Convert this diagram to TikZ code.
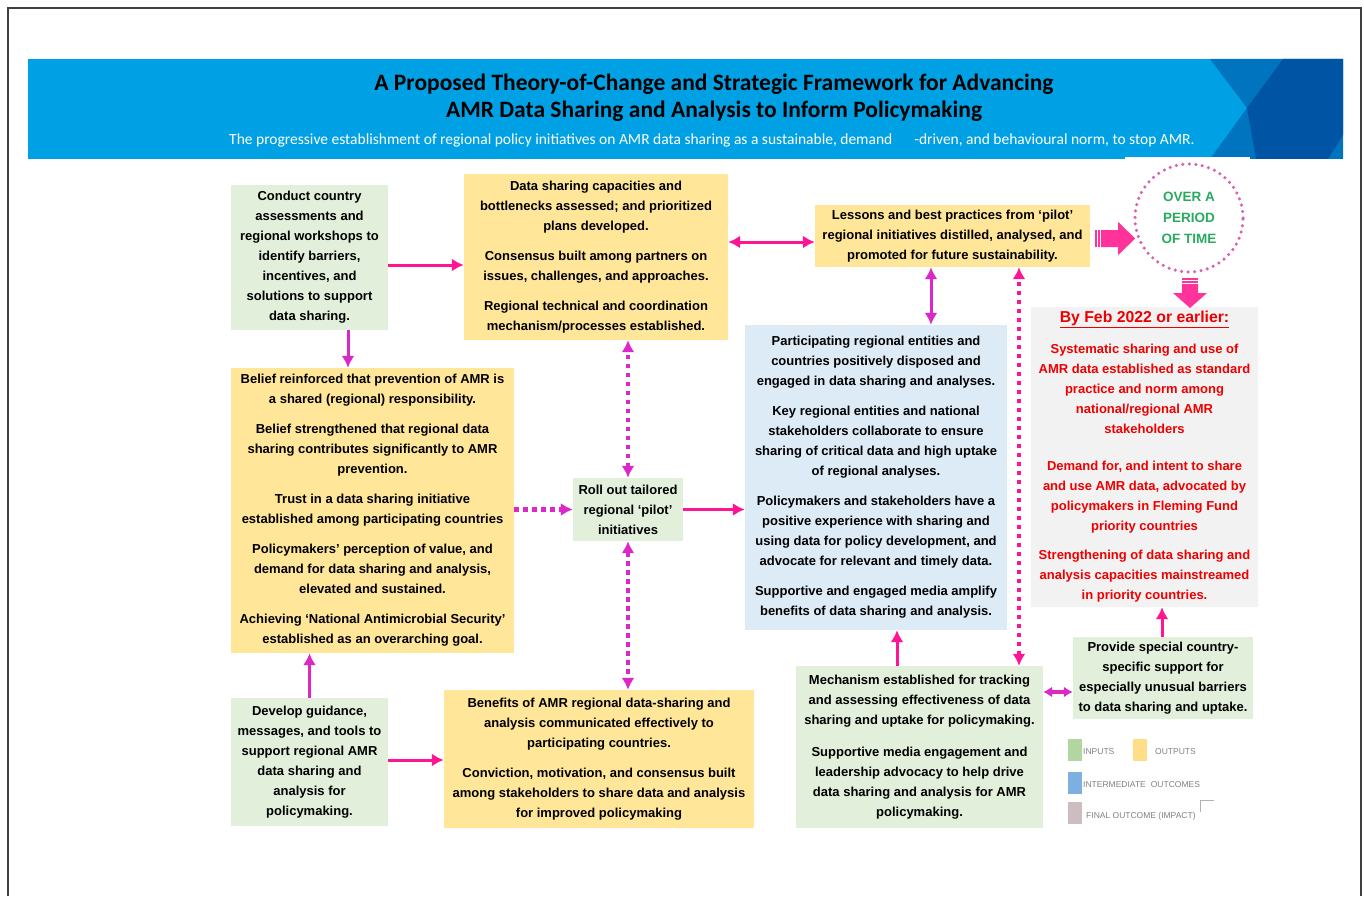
\documentclass[tikz,border=0pt]{standalone}
\usepackage{fontspec}
\setmainfont{Liberation Sans}
\newfontfamily\headfont{Carlito}
\usetikzlibrary{arrows.meta}

\definecolor{inputgreen}{RGB}{226,239,218}
\definecolor{outputyellow}{RGB}{255,230,153}
\definecolor{outcomeblue}{RGB}{221,235,247}
\definecolor{impactgray}{RGB}{242,242,242}
\definecolor{impactred}{RGB}{238,0,0}
\definecolor{bannerblue}{RGB}{0,161,228}
\definecolor{bannermid}{RGB}{0,116,190}
\definecolor{bannerdark}{RGB}{0,84,164}
\definecolor{hotpink}{RGB}{255,20,147}
\definecolor{magentalink}{RGB}{221,40,200}
\definecolor{blockpink}{RGB}{255,51,153}
\definecolor{ringpink}{RGB}{215,100,175}
\definecolor{timegreen}{RGB}{40,170,95}
\definecolor{keygreen}{RGB}{178,214,160}
\definecolor{keyyellow}{RGB}{255,222,135}
\definecolor{keyblue}{RGB}{125,175,225}
\definecolor{keygray}{RGB}{205,188,192}

\begin{document}
\begin{tikzpicture}[x=1pt, y=-1pt, >={Latex[length=12pt,width=13pt]},
  box/.style={align=center, inner sep=0pt, font=\bfseries\fontsize{13}{20}\selectfont},
  inbox/.style={box, fill=inputgreen},
  outbox/.style={box, fill=outputyellow},
  midbox/.style={box, fill=outcomeblue},
  impactbox/.style={box, fill=impactgray, text=impactred},
  solidlink/.style={->, line width=3pt},
  dotlink/.style={<->, line width=4.5pt, dash pattern=on 4.5pt off 4.5pt},
  keybox/.style={minimum width=14, minimum height=22, inner sep=0pt},
  keytext/.style={anchor=west, inner sep=0pt, text=gray, font=\fontsize{8.5}{10}\selectfont}]

\useasboundingbox (0,0) rectangle (1364,896);

% Frame
\draw[line width=1.5pt, black!75] (8,896) -- (8,8) -- (1361,8) -- (1361,896);

% Banner
\fill[bannerblue] (28,59) rectangle (1343,159);
\fill[bannermid] (1210,59) -- (1343,59) -- (1343,159) -- (1210,159) -- (1247,108) -- cycle;
\fill[bannerdark] (1283,59) -- (1343,59) -- (1343,135) -- (1328,159) -- (1256,159) -- (1247,108) -- cycle;
\fill[white] (1125,157) rectangle (1250,166);

% Title and tagline
\node[align=center, font=\headfont\bfseries\fontsize{23.5}{27}\selectfont] (title) at (714,97.5)
  {A Proposed Theory-of-Change and Strategic Framework for Advancing\\AMR Data Sharing and Analysis to Inform Policymaking};
\node[text=white, font=\headfont\fontsize{15.5}{17}\selectfont] (tagline) at (712,140)
  {The progressive establishment of regional policy initiatives on AMR data sharing as a sustainable, demand\hspace{22pt}-driven, and behavioural norm, to stop AMR.};

% INPUTS, OUTPUTS AND OUTCOMES

% Top row
\node[inbox, minimum width=157, minimum height=145] (assess) at (309.5,257.5)
  {Conduct country\\assessments and\\regional workshops to\\identify barriers,\\incentives, and\\solutions to support\\data sharing.};
\node[outbox, minimum width=264, minimum height=166] (capacity) at (596,257)
  {Data sharing capacities and\\bottlenecks assessed; and prioritized\\plans developed.\\[10pt]Consensus built among partners on\\issues, challenges, and approaches.\\[10pt]Regional technical and coordination\\mechanism/processes established.};
\node[outbox, minimum width=275, minimum height=62] (lessons) at (952.5,236)
  {Lessons and best practices from ‘pilot’\\regional initiatives distilled, analysed, and\\promoted for future sustainability.};

% Over a period of time
\node[circle, draw=ringpink, line width=3.5pt, dash pattern=on 0pt off 6.5pt, line cap=round,
  minimum size=108, inner sep=0pt, align=center, text=timegreen,
  font=\bfseries\fontsize{13.5}{21}\selectfont] (period) at (1189,218) {OVER A\\PERIOD\\OF TIME};

% Final outcome
\node[impactbox, minimum width=227, minimum height=300] (impact) at (1144.5,457)
  {{\fontsize{15.8}{20}\selectfont\underline{By Feb 2022 or earlier:}}\\[11pt]
   Systematic sharing and use of\\AMR data established as standard\\practice and norm among\\national/regional AMR\\stakeholders\\[17pt]
   Demand for, and intent to share\\and use AMR data, advocated by\\policymakers in Fleming Fund\\priority countries\\[9pt]
   Strengthening of data sharing and\\analysis capacities mainstreamed\\in priority countries.};

% Middle row
\node[outbox, minimum width=283, minimum height=285] (belief) at (372.5,510.5)
  {Belief reinforced that prevention of AMR is\\a shared (regional) responsibility.\\[10pt]
   Belief strengthened that regional data\\sharing contributes significantly to AMR\\prevention.\\[10pt]
   Trust in a data sharing initiative\\established among participating countries\\[10pt]
   Policymakers’ perception of value, and\\demand for data sharing and analysis,\\elevated and sustained.\\[10pt]
   Achieving ‘National Antimicrobial Security’\\established as an overarching goal.};
\node[inbox, minimum width=110, minimum height=63] (rollout) at (628,509.5)
  {Roll out tailored\\regional ‘pilot’\\initiatives};
\node[midbox, minimum width=262, minimum height=305] (uptake) at (876,477.5)
  {Participating regional entities and\\countries positively disposed and\\engaged in data sharing and analyses.\\[10pt]
   Key regional entities and national\\stakeholders collaborate to ensure\\sharing of critical data and high uptake\\of regional analyses.\\[10pt]
   Policymakers and stakeholders have a\\positive experience with sharing and\\using data for policy development, and\\advocate for relevant and timely data.\\[10pt]
   Supportive and engaged media amplify\\benefits of data sharing and analysis.};

% Bottom row
\node[inbox, minimum width=157, minimum height=128] (guidance) at (309.5,762)
  {Develop guidance,\\messages, and tools to\\support regional AMR\\data sharing and\\analysis for\\policymaking.};
\node[outbox, minimum width=310, minimum height=138] (benefits) at (599,759)
  {Benefits of AMR regional data-sharing and\\analysis communicated effectively to\\participating countries.\\[10pt]
   Conviction, motivation, and consensus built\\among stakeholders to share data and analysis\\for improved policymaking};
\node[inbox, minimum width=247, minimum height=162] (tracking) at (919.5,747)
  {Mechanism established for tracking\\and assessing effectiveness of data\\sharing and uptake for policymaking.\\[12pt]
   Supportive media engagement and\\leadership advocacy to help drive\\data sharing and analysis for AMR\\policymaking.};
\node[inbox, minimum width=180, minimum height=82] (support) at (1163,678)
  {Provide special country-\\specific support for\\especially unusual barriers\\to data sharing and uptake.};

% Solid arrows
\draw[solidlink, hotpink] ([yshift=-7.5]assess.east) -- ([yshift=-7.5]assess.east -| capacity.west);
\draw[solidlink, magentalink] ([xshift=38.5]assess.south) -- ([xshift=38.5]assess.south |- belief.north);
\draw[solidlink, <->, hotpink] ([yshift=-6]lessons.west -| capacity.east) -- ([yshift=-6]lessons.west);
\draw[solidlink, <->, magentalink] ([xshift=-21.5]lessons.south) -- ([xshift=-21.5]lessons.south |- uptake.north);
\draw[solidlink, hotpink] (rollout.east) -- (rollout.east -| uptake.west);
\draw[solidlink, magentalink] (guidance.north) -- (guidance.north |- belief.south);
\draw[solidlink, hotpink] ([yshift=2]guidance.east) -- ([yshift=2]guidance.east -| benefits.west);
\draw[solidlink, hotpink] ([xshift=-22.5]tracking.north) -- ([xshift=-22.5]tracking.north |- uptake.south);
\draw[<->, line width=4pt, magentalink, >={Latex[length=9pt,width=11pt]}]
  ([yshift=-14]support.west -| tracking.east) -- ([yshift=-14]support.west);
\draw[solidlink, hotpink] ([xshift=-1]support.north) -- ([xshift=-1]support.north |- impact.south);

% Dotted arrows
\draw[dotlink, magentalink] (rollout.north) -- (capacity.south -| rollout.north);
\draw[dotlink, magentalink] (rollout.south) -- (benefits.north -| rollout.south);
\draw[dotlink, ->, magentalink] (belief.east |- rollout.west) -- (rollout.west);
\draw[dotlink, hotpink] ([xshift=99.5]tracking.north) -- ([xshift=99.5]tracking.north |- lessons.south);

% Block arrows to and from the circle
\begin{scope}[shift={(lessons.east)}]
  \fill[blockpink] (5,-6) rectangle (7,11);
  \fill[blockpink] (8,-6) rectangle (10,11);
  \fill[blockpink] (11,-6) -- (28,-6) -- (28,-14) -- (45,2.5) -- (28,19) -- (28,11) -- (11,11) -- cycle;
\end{scope}
\begin{scope}[shift={(period.center)}]
  \fill[blockpink] (-7,60) rectangle (9,62);
  \fill[blockpink] (-7,63) rectangle (9,65);
  \fill[blockpink] (-7,66) -- (9,66) -- (9,75) -- (18,75) -- (1,90) -- (-16,75) -- (-7,75) -- cycle;
\end{scope}

% Legend
\node[keybox, fill=keygreen] (keyin) at (1075,750) {};
\node[keytext] (keyintext) at (1083,752) {INPUTS};
\node[keybox, fill=keyyellow] (keyout) at (1139.5,750) {};
\node[keytext] (keyouttext) at (1155,752) {OUTPUTS};
\node[keybox, fill=keyblue] (keymid) at (1075,783) {};
\node[keytext] (keymidtext) at (1083,785) {INTERMEDIATE\hspace{5pt}OUTCOMES};
\node[keybox, fill=keygray] (keyfin) at (1075,813) {};
\node[keytext] (keyfintext) at (1086,816) {FINAL OUTCOME (IMPACT)};
\draw[gray!60, thin] (1200,812) -- (1200,800) -- (1214,800);

\end{tikzpicture}
\end{document}
